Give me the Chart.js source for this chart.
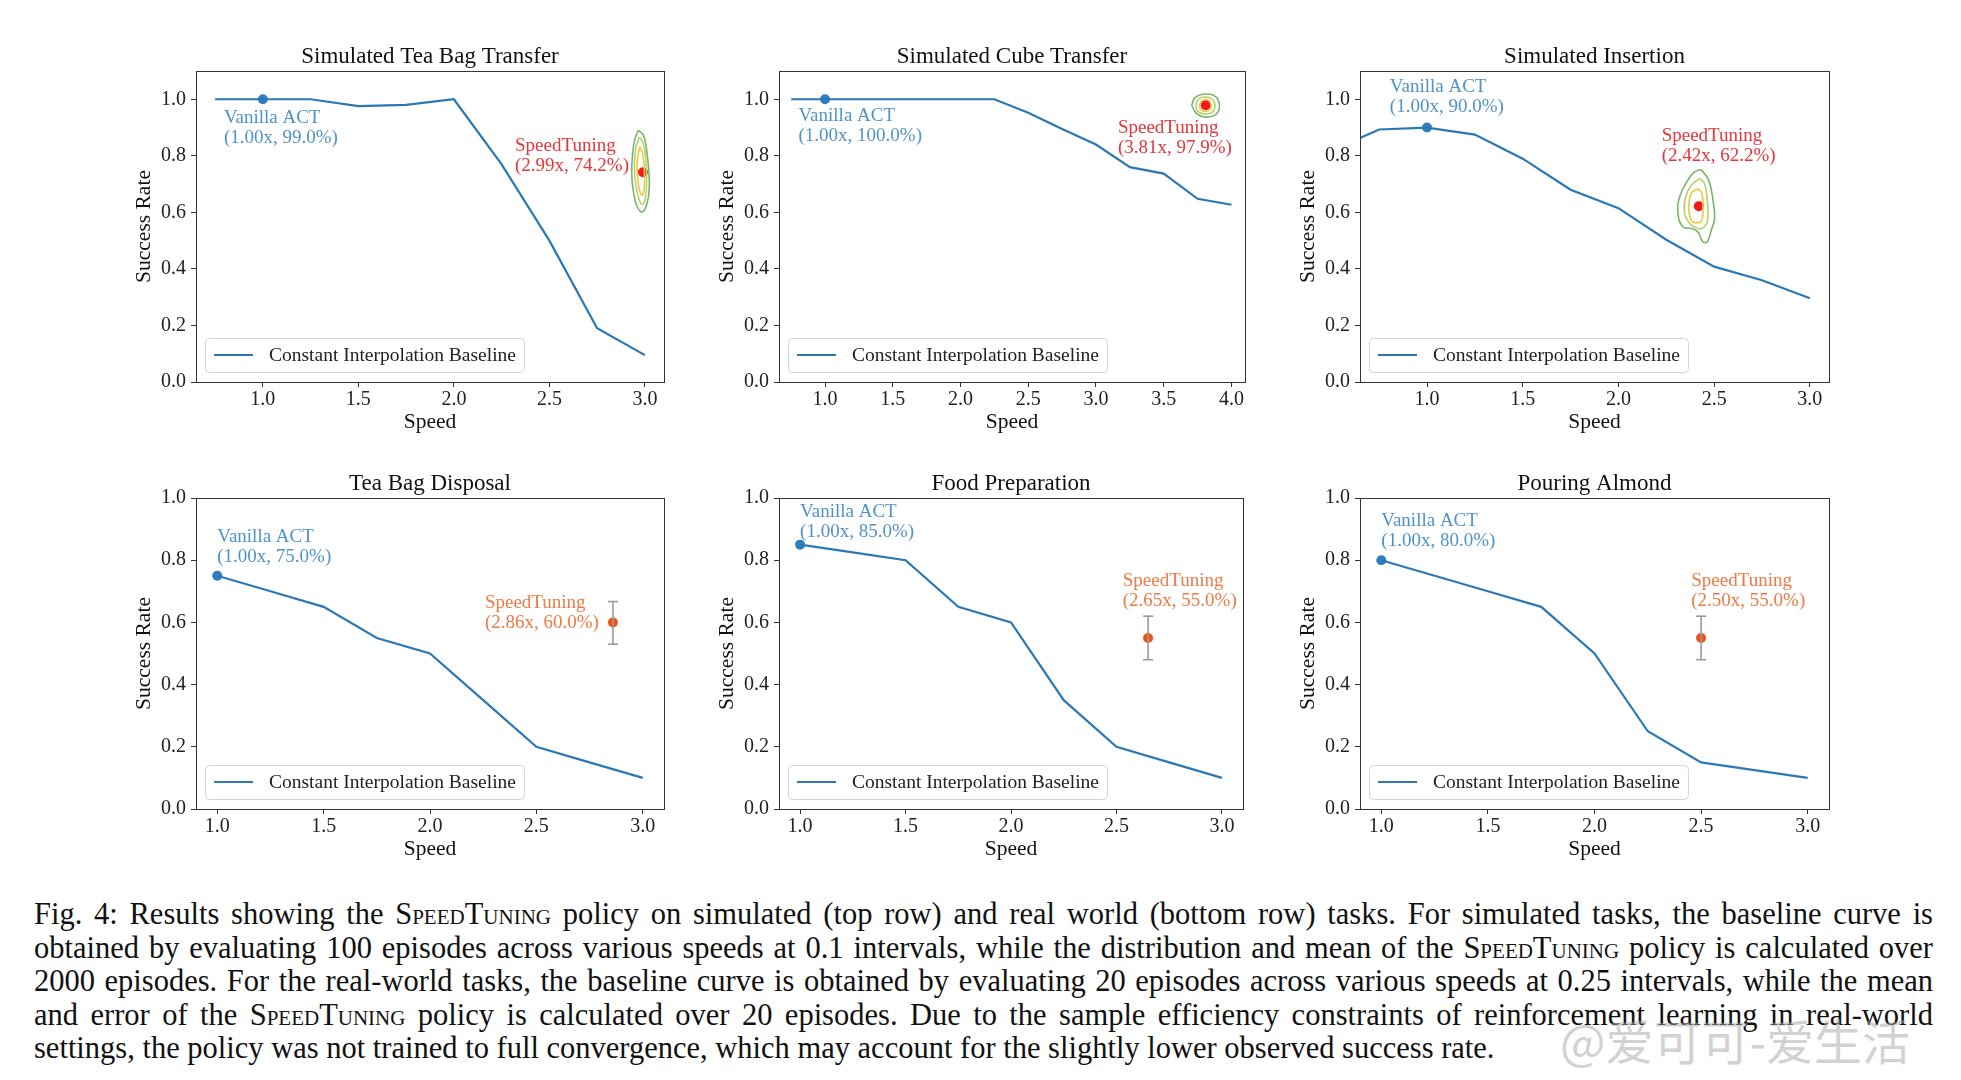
<!DOCTYPE html>
<html>
<head>
<meta charset="utf-8">
<script src="https://cdn.jsdelivr.net/npm/chart.js@4.4.1/dist/chart.umd.min.js"></script>
<style>
  html, body { margin: 0; padding: 0; background: #fff; }
  body { width: 1961px; height: 1080px; position: relative; overflow: hidden; font-family: "Liberation Serif", "DejaVu Serif", serif; }
  .panel { position: absolute; }
  .caption { position: absolute; left: 34px; top: 898px; width: 1899px; font-size: 30.5px; line-height: 33.5px; color: #111; }
  .caption div { white-space: nowrap; }
  .sc { font-variant: small-caps; }
  .mark { position: absolute; left: 1560px; top: 1004px; font-family: "Noto Sans CJK SC", sans-serif; font-size: 48px; color: rgba(165,165,165,0.5); white-space: nowrap; }
</style>
</head>
<body>

<div class="caption" id="caption">
  <div>Fig. 4: Results showing the <span class="sc">SpeedTuning</span> policy on simulated (top row) and real world (bottom row) tasks. For simulated tasks, the baseline curve is</div>
  <div>obtained by evaluating 100 episodes across various speeds at 0.1 intervals, while the distribution and mean of the <span class="sc">SpeedTuning</span> policy is calculated over</div>
  <div>2000 episodes. For the real-world tasks, the baseline curve is obtained by evaluating 20 episodes across various speeds at 0.25 intervals, while the mean</div>
  <div>and error of the <span class="sc">SpeedTuning</span> policy is calculated over 20 episodes. Due to the sample efficiency constraints of reinforcement learning in real-world</div>
  <div class="last">settings, the policy was not trained to full convergence, which may account for the slightly lower observed success rate.</div>
</div>
<div class="mark">@爱可可-爱生活</div>

<script>
// --- data ---

const simSpeeds = [0.75, 1.0, 1.25, 1.5, 1.75, 2.0, 2.25, 2.5, 2.75, 3.0];
const teaTransferRate = [1.0, 1.0, 1.0, 0.976, 0.98, 1.0, 0.77, 0.50, 0.19, 0.095];

const cubeSpeeds = [0.75, 1.0, 1.25, 1.5, 1.75, 2.0, 2.25, 2.5, 2.75, 3.0, 3.25, 3.5, 3.75, 4.0];
const cubeRate = [1.0, 1.0, 1.0, 1.0, 1.0, 1.0, 1.0, 0.952, 0.895, 0.84, 0.76, 0.737, 0.648, 0.627];

const insertionSpeeds = [0.65, 0.75, 1.0, 1.25, 1.5, 1.75, 2.0, 2.25, 2.5, 2.75, 3.0];
const insertionRate = [0.863, 0.893, 0.90, 0.875, 0.79, 0.68, 0.615, 0.503, 0.408, 0.36, 0.296];

const realSpeeds = [1.0, 1.25, 1.5, 1.75, 2.0, 2.25, 2.5, 2.75, 3.0];
const disposalRate = [0.75, 0.70, 0.65, 0.55, 0.50, 0.35, 0.20, 0.15, 0.10];
const foodRate = [0.85, 0.825, 0.80, 0.65, 0.60, 0.35, 0.20, 0.15, 0.10];
const almondRate = [0.80, 0.75, 0.70, 0.65, 0.50, 0.25, 0.15, 0.125, 0.10];

// vanilla ACT marker (speed, rate) and its label
const vanillaPoint = [[1.0, 1.0], [1.0, 1.0], [1.0, 0.90], [1.0, 0.75], [1.0, 0.85], [1.0, 0.80]];
const vanillaLabel = ['(1.00x, 99.0%)', '(1.00x, 100.0%)', '(1.00x, 90.0%)', '(1.00x, 75.0%)', '(1.00x, 85.0%)', '(1.00x, 80.0%)'];

// SpeedTuning mean (speed, rate) and its label
const tuningPoint = [[2.99, 0.742], [3.81, 0.979], [2.42, 0.622], [2.86, 0.60], [2.65, 0.55], [2.50, 0.55]];
const tuningLabel = ['(2.99x, 74.2%)', '(3.81x, 97.9%)', '(2.42x, 62.2%)', '(2.86x, 60.0%)', '(2.65x, 55.0%)', '(2.50x, 55.0%)'];

// error range of real-world SpeedTuning (low, high)
const tuningError = [null, null, null, [0.53, 0.667], [0.48, 0.62], [0.48, 0.62]];

// density contours of the simulated SpeedTuning runs: outer, middle, inner ring
const teaContour = [
  [[2.966,0.890],[2.992,0.873],[3.009,0.820],[3.020,0.749],[3.023,0.690],[3.013,0.637],[2.988,0.602],[2.960,0.620],[2.940,0.673],[2.931,0.737],[2.936,0.808],[2.948,0.861]],
  [[2.971,0.867],[2.992,0.843],[3.006,0.773],[3.009,0.702],[3.002,0.649],[2.988,0.629],[2.971,0.643],[2.953,0.696],[2.945,0.761],[2.952,0.826]],
  [[2.974,0.832],[2.988,0.808],[2.997,0.749],[2.997,0.690],[2.988,0.661],[2.974,0.673],[2.962,0.726],[2.960,0.785]]
];
const cubeContour = [
  [[3.706,0.979],[3.731,1.006],[3.792,1.018],[3.866,1.014],[3.903,0.996],[3.910,0.967],[3.878,0.944],[3.804,0.937],[3.743,0.949]],
  [[3.738,0.979],[3.755,1.000],[3.804,1.008],[3.861,1.000],[3.878,0.975],[3.854,0.953],[3.792,0.949],[3.748,0.959]],
  [[3.763,0.979],[3.780,0.994],[3.817,0.999],[3.846,0.988],[3.846,0.967],[3.812,0.957],[3.775,0.963]]
];
const insertionContour = [
  [[2.433,0.751],[2.471,0.714],[2.494,0.643],[2.502,0.578],[2.485,0.537],[2.464,0.496],[2.441,0.496],[2.415,0.531],[2.381,0.543],[2.337,0.549],[2.311,0.596],[2.320,0.655],[2.363,0.714],[2.398,0.743]],
  [[2.424,0.720],[2.450,0.702],[2.464,0.643],[2.467,0.578],[2.450,0.549],[2.415,0.543],[2.372,0.561],[2.346,0.596],[2.351,0.655],[2.381,0.696]],
  [[2.415,0.684],[2.436,0.667],[2.441,0.620],[2.436,0.572],[2.415,0.563],[2.381,0.572],[2.368,0.620],[2.381,0.667]]
];

const titles = ['Simulated Tea Bag Transfer', 'Simulated Cube Transfer', 'Simulated Insertion', 'Tea Bag Disposal', 'Food Preparation', 'Pouring Almond'];
const ticksX = [1.0, 1.5, 2.0, 2.5, 3.0];
const ticksXCube = [1.0, 1.5, 2.0, 2.5, 3.0, 3.5, 4.0];
const ticksY = [0.0, 0.2, 0.4, 0.6, 0.8, 1.0];

// --- layout / style ---

const BLUE = '#2a78b5';
const SERIF = '"Liberation Serif", "DejaVu Serif", serif';

const panels = [
  { left: 196, top: 71, w: 468, h: 311, xMin: 0.65, xMax: 3.1, yMax: 1.1, xs: simSpeeds, ys: teaTransferRate, ticks: ticksX, contour: teaContour,
    vanText: [0.796, 0.934], tunText: [2.32, 0.834], tunColor: '#e8343a', dotColor: '#f21a1a' },
  { left: 779, top: 71, w: 466, h: 311, xMin: 0.66, xMax: 4.1, yMax: 1.1, xs: cubeSpeeds, ys: cubeRate, ticks: ticksXCube, contour: cubeContour,
    vanText: [0.804, 0.942], tunText: [3.162, 0.898], tunColor: '#e8343a', dotColor: '#f21a1a' },
  { left: 1360, top: 71, w: 469, h: 311, xMin: 0.65, xMax: 3.1, yMax: 1.1, xs: insertionSpeeds, ys: insertionRate, ticks: ticksX, contour: insertionContour,
    vanText: [0.806, 1.044], tunText: [2.226, 0.869], tunColor: '#e8343a', dotColor: '#f21a1a' },
  { left: 196, top: 498, w: 468, h: 311, xMin: 0.9, xMax: 3.1, yMax: 1.0, xs: realSpeeds, ys: disposalRate, ticks: ticksX, contour: null,
    vanText: [1.0, 0.874], tunText: [2.258, 0.662], tunColor: '#ee7a45', dotColor: '#ec561c' },
  { left: 779, top: 498, w: 464, h: 311, xMin: 0.9, xMax: 3.1, yMax: 1.0, xs: realSpeeds, ys: foodRate, ticks: ticksX, contour: null,
    vanText: [1.0, 0.955], tunText: [2.53, 0.734], tunColor: '#ee7a45', dotColor: '#ec561c' },
  { left: 1360, top: 498, w: 469, h: 311, xMin: 0.9, xMax: 3.1, yMax: 1.0, xs: realSpeeds, ys: almondRate, ticks: ticksX, contour: null,
    vanText: [1.0, 0.927], tunText: [2.454, 0.734], tunColor: '#ee7a45', dotColor: '#ec561c' }
];
const ringColors = ['#7cb46c', '#b8d26e', '#f0c83c'];

const PAD_L = 90, PAD_T = 50, PAD_R = 30, PAD_B = 70;

// frame, title, annotations and the in-plot legend
const decor = {
  id: 'decor',
  afterDatasetsDraw(chart) {
    const i = chart.options.panelIndex;
    const p = panels[i];
    const { ctx, chartArea: a, scales: { x, y } } = chart;
    ctx.save();
    ctx.strokeStyle = '#333';
    ctx.lineWidth = 1;
    ctx.strokeRect(Math.round(a.left) + 0.5, Math.round(a.top) + 0.5, Math.round(a.right - a.left), Math.round(a.bottom - a.top));

    ctx.fillStyle = '#111';
    ctx.font = '23px ' + SERIF;
    ctx.textAlign = 'center';
    ctx.textBaseline = 'alphabetic';
    ctx.fillText(titles[i], (a.left + a.right) / 2, a.top - 8);

    ctx.textAlign = 'left';
    ctx.textBaseline = 'middle';
    ctx.font = '19px ' + SERIF;
    let tx = x.getPixelForValue(p.vanText[0]), ty = y.getPixelForValue(p.vanText[1]);
    ctx.fillStyle = '#4f93ca';
    ctx.fillText('Vanilla ACT', tx, ty);
    ctx.fillText(vanillaLabel[i], tx, ty + 20);
    tx = x.getPixelForValue(p.tunText[0]); ty = y.getPixelForValue(p.tunText[1]);
    ctx.fillStyle = p.tunColor;
    ctx.fillText('SpeedTuning', tx, ty);
    ctx.fillText(tuningLabel[i], tx, ty + 20);

    // legend box in the lower left corner
    ctx.font = '19.5px ' + SERIF;
    const label = 'Constant Interpolation Baseline';
    const bx = a.left + 9, bh = 34, by = a.bottom - 10 - bh;
    const textX = a.left + 73;
    const bw = textX + ctx.measureText(label).width + 8 - bx;
    ctx.beginPath();
    ctx.roundRect(bx + 0.5, by + 0.5, bw, bh, 4);
    ctx.fillStyle = 'rgba(255,255,255,0.85)';
    ctx.fill();
    ctx.strokeStyle = '#d4d4d4';
    ctx.stroke();
    ctx.beginPath();
    ctx.moveTo(a.left + 18, by + bh / 2);
    ctx.lineTo(a.left + 57, by + bh / 2);
    ctx.strokeStyle = BLUE;
    ctx.lineWidth = 2;
    ctx.stroke();
    ctx.fillStyle = '#222';
    ctx.fillText(label, textX, by + bh / 2 + 1);
    ctx.restore();
  }
};

const toXY = arr => arr.map(([x, y]) => ({ x, y }));

panels.forEach((p, i) => {
  const box = document.createElement('div');
  box.className = 'panel';
  const W = p.w + PAD_L + PAD_R, H = p.h + PAD_T + PAD_B;
  box.style.left = (p.left - PAD_L) + 'px';
  box.style.top = (p.top - PAD_T) + 'px';
  box.style.width = W + 'px';
  box.style.height = H + 'px';
  const cv = document.createElement('canvas');
  box.appendChild(cv);
  document.body.appendChild(box);

  const datasets = [{
    data: p.xs.map((s, k) => ({ x: s, y: p.ys[k] })),
    showLine: true, borderColor: BLUE, borderWidth: 2.2, pointRadius: 0, tension: 0
  }];
  if (p.contour) {
    p.contour.forEach((ring, r) => {
      const pts = toXY(ring);
      pts.push(pts[0]);
      datasets.push({ data: pts, showLine: true, borderColor: ringColors[r], borderWidth: 1.6, pointRadius: 0, tension: 0.45 });
    });
  }
  if (tuningError[i]) {
    const [lo, hi] = tuningError[i];
    const sx = tuningPoint[i][0];
    datasets.push({
      data: [{ x: sx, y: lo }, { x: sx, y: hi }],
      showLine: true, borderColor: '#9a9a9a', borderWidth: 1.6,
      pointStyle: 'line', pointRadius: 5, pointBorderColor: '#9a9a9a', pointBorderWidth: 1.6
    });
  }
  datasets.push({ data: [{ x: vanillaPoint[i][0], y: vanillaPoint[i][1] }], pointRadius: 5, backgroundColor: '#2f7fbf', borderWidth: 0 });
  datasets.push({ data: [{ x: tuningPoint[i][0], y: tuningPoint[i][1] }], pointRadius: 5, backgroundColor: p.dotColor, borderWidth: 0 });

  const tickFont = { family: SERIF, size: 20 };
  new Chart(cv, {
    type: 'scatter',
    data: { datasets },
    options: {
      panelIndex: i,
      responsive: true,
      maintainAspectRatio: false,
      animation: false,
      devicePixelRatio: 1,
      layout: { padding: { top: PAD_T, right: PAD_R, left: 0, bottom: 0 } },
      plugins: { legend: { display: false }, tooltip: { enabled: false } },
      scales: {
        x: {
          type: 'linear', min: p.xMin, max: p.xMax,
          afterBuildTicks: s => { s.ticks = p.ticks.map(v => ({ value: v })); },
          afterFit: s => { s.height = PAD_B; },
          ticks: { color: '#222', font: tickFont, padding: 1, maxRotation: 0, callback: v => v.toFixed(1) },
          grid: { display: true, drawOnChartArea: false, drawTicks: true, tickLength: 5, color: '#333' },
          border: { display: true, color: '#333' },
          title: { display: true, text: 'Speed', color: '#111', font: { family: SERIF, size: 21.5 }, padding: { top: 0, bottom: 17 } }
        },
        y: {
          type: 'linear', min: 0, max: p.yMax,
          afterBuildTicks: s => { s.ticks = ticksY.map(v => ({ value: v })); },
          afterFit: s => { s.width = PAD_L; },
          ticks: { color: '#222', font: tickFont, padding: 5, callback: v => v.toFixed(1) },
          grid: { display: true, drawOnChartArea: false, drawTicks: true, tickLength: 5, color: '#333' },
          border: { display: true, color: '#333' },
          title: { display: true, text: 'Success Rate', color: '#111', font: { family: SERIF, size: 21.5 }, padding: { top: 25, bottom: 0 } }
        }
      }
    },
    plugins: [decor]
  });
});

// justify caption lines to the full text width
document.querySelectorAll('#caption div').forEach(line => {
  if (line.classList.contains('last')) return;
  const target = 1899;
  const range = document.createRange();
  range.selectNodeContents(line);
  const w = range.getBoundingClientRect().width;
  const spaces = (line.textContent.trim().match(/ /g) || []).length;
  if (spaces) line.style.wordSpacing = ((target - w) / spaces) + 'px';
});
</script>
</body>
</html>
